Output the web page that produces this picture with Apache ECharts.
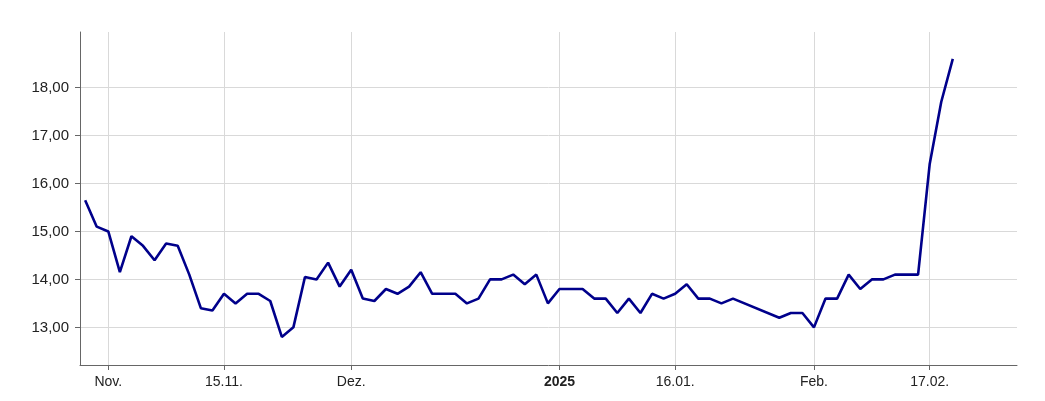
<!DOCTYPE html>
<html>
<head>
<meta charset="utf-8">
<script src="https://cdn.jsdelivr.net/npm/echarts@6/dist/echarts.min.js"></script>
<style>
html,body{margin:0;padding:0;background:#fff;}
#chart{width:1045px;height:401px;}
</style>
</head>
<body>
<div id="chart"></div>
<script>
// Trading days (Xetra calendar)
const dates = [
  '2024-10-30','2024-10-31','2024-11-01','2024-11-04','2024-11-05','2024-11-06','2024-11-07','2024-11-08',
  '2024-11-11','2024-11-12','2024-11-13','2024-11-14','2024-11-15','2024-11-18','2024-11-19','2024-11-20',
  '2024-11-21','2024-11-22','2024-11-25','2024-11-26','2024-11-27','2024-11-28','2024-11-29','2024-12-02',
  '2024-12-03','2024-12-04','2024-12-05','2024-12-06','2024-12-09','2024-12-10','2024-12-11','2024-12-12',
  '2024-12-13','2024-12-16','2024-12-17','2024-12-18','2024-12-19','2024-12-20','2024-12-23','2024-12-27',
  '2024-12-30','2025-01-02','2025-01-03','2025-01-06','2025-01-07','2025-01-08','2025-01-09','2025-01-10',
  '2025-01-13','2025-01-14','2025-01-15','2025-01-16','2025-01-17','2025-01-20','2025-01-21','2025-01-22',
  '2025-01-23','2025-01-24','2025-01-27','2025-01-28','2025-01-29','2025-01-30','2025-01-31','2025-02-03',
  '2025-02-04','2025-02-05','2025-02-06','2025-02-07','2025-02-10','2025-02-11','2025-02-12','2025-02-13',
  '2025-02-14','2025-02-17','2025-02-18','2025-02-19'
];
const prices = [
  15.65, 15.1, 15.0, 14.15, 14.9, 14.7, 14.4, 14.75,
  14.7, 14.1, 13.4, 13.35, 13.7, 13.5, 13.7, 13.7,
  13.55, 12.8, 13.0, 14.05, 14.0, 14.35, 13.85, 14.2,
  13.6, 13.55, 13.8, 13.7, 13.85, 14.15, 13.7, 13.7,
  13.7, 13.5, 13.6, 14.0, 14.0, 14.1, 13.9, 14.1,
  13.5, 13.8, 13.8, 13.8, 13.6, 13.6, 13.3, 13.6,
  13.3, 13.7, 13.6, 13.7, 13.9, 13.6, 13.6, 13.5,
  13.6, null, null, null, 13.2, 13.3, 13.3, 13.0,
  13.6, 13.6, 14.1, 13.8, 14.0, 14.0, 14.1, 14.1,
  14.1, 16.4, 17.7, 18.6
];
const tickDates = ['2024-11-01','2024-11-15','2024-12-02','2025-01-02','2025-01-16','2025-02-03','2025-02-17'];
const tickLabels = ['Nov.','15.11.','Dez.','2025','16.01.','Feb.','17.02.'];
const boldLabels = ['2025'];
const yTicks = [13, 14, 15, 16, 17, 18];

const tickIdx = tickDates.map(d => dates.indexOf(d));
const seriesData = prices.map((v, i) => [i, v]);

const chart = echarts.init(document.getElementById('chart'), null, {renderer: 'canvas'});
chart.setOption({
  animation: false,
  backgroundColor: '#fff',
  grid: {left: 80, right: 28, top: 32, bottom: 36, containLabel: false},
  xAxis: {
    type: 'value',
    min: -0.446,
    max: 80.55,
    axisLine: {show: true, onZero: false, lineStyle: {color: '#666', width: 1}},
    axisTick: {show: true, length: 5, lineStyle: {color: '#666'}, customValues: tickIdx},
    axisLabel: {
      customValues: tickIdx,
      margin: 10,
      fontFamily: 'Liberation Sans, Arial, sans-serif',
      fontSize: 14,
      color: '#222',
      formatter: function (v) {
        const k = tickIdx.indexOf(Math.round(v));
        if (k < 0) return '';
        const t = tickLabels[k];
        return boldLabels.indexOf(t) >= 0 ? '{b|' + t + '}' : t;
      },
      rich: {b: {fontWeight: 'bold', fontSize: 14, fontFamily: 'Liberation Sans, Arial, sans-serif', color: '#222'}}
    },
    splitLine: {show: true, lineStyle: {color: '#d9d9d9', width: 1}}
  },
  yAxis: {
    type: 'value',
    min: 12.215,
    max: 19.16,
    axisLine: {show: true, onZero: false, lineStyle: {color: '#666', width: 1}},
    axisTick: {show: true, length: 5, lineStyle: {color: '#666'}, customValues: yTicks},
    axisLabel: {
      customValues: yTicks,
      margin: 11,
      fontFamily: 'Liberation Sans, Arial, sans-serif',
      fontSize: 15,
      color: '#222',
      formatter: v => v.toFixed(2).replace('.', ',')
    },
    splitLine: {show: true, lineStyle: {color: '#d9d9d9', width: 1}}
  },
  series: [{
    type: 'line',
    data: seriesData,
    connectNulls: true,
    showSymbol: false,
    symbol: 'none',
    lineStyle: {color: '#00008b', width: 2.6},
    itemStyle: {color: '#00008b'}
  }]
});
</script>
</body>
</html>
